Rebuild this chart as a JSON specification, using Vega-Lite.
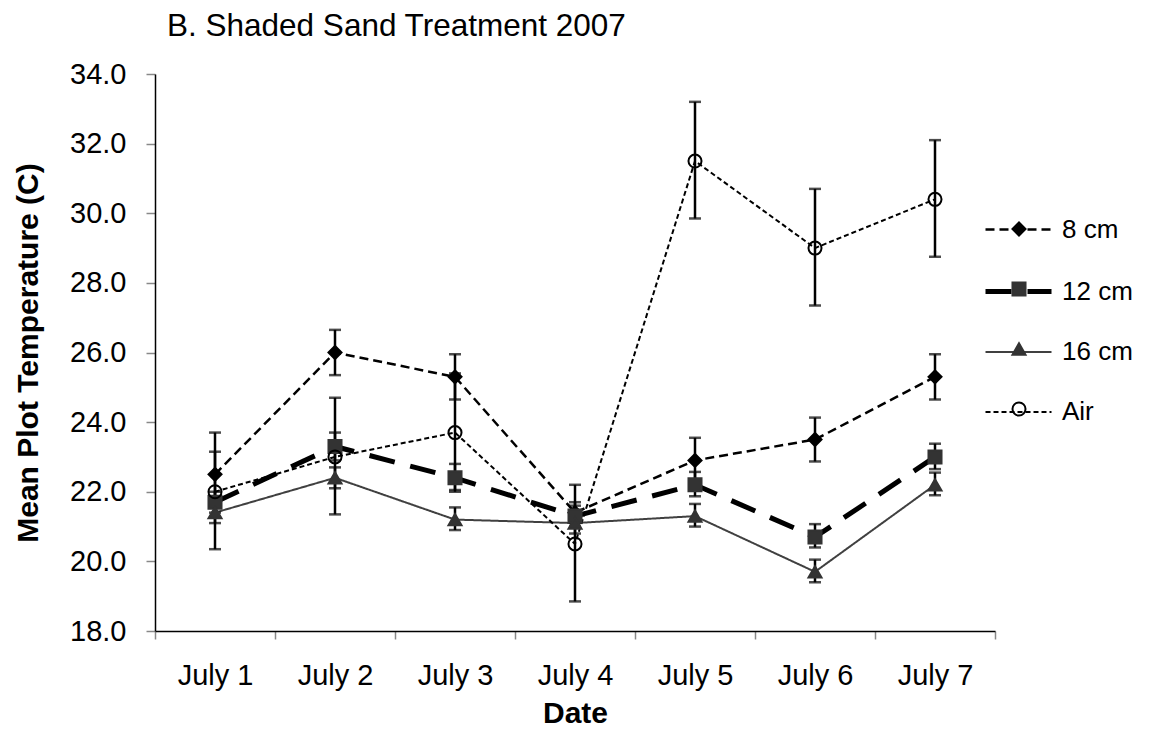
{
  "$schema": "https://vega.github.io/schema/vega-lite/v6.json",
  "width": 840,
  "height": 557,
  "autosize": "none",
  "padding": {"left": 155, "top": 74, "right": 154, "bottom": 125},
  "title": {"text": "B. Shaded Sand Treatment 2007", "anchor": "start", "frame": "group", "dx": 12, "baseline": "alphabetic", "offset": -7, "fontSize": 31.5, "fontWeight": "normal", "font": "Liberation Sans", "color": "black"},
  "config": {"font": "Liberation Sans", "view": {"stroke": null}},
  "data": {"values": [
    {"series": "8 cm", "day": 1, "temp": 22.5, "lo": 21.85, "hi": 23.15},
    {"series": "8 cm", "day": 2, "temp": 26.0, "lo": 25.35, "hi": 26.65},
    {"series": "8 cm", "day": 3, "temp": 25.3, "lo": 24.65, "hi": 25.95},
    {"series": "8 cm", "day": 4, "temp": 21.4, "lo": 21.1, "hi": 21.7},
    {"series": "8 cm", "day": 5, "temp": 22.9, "lo": 22.25, "hi": 23.55},
    {"series": "8 cm", "day": 6, "temp": 23.5, "lo": 22.87, "hi": 24.13},
    {"series": "8 cm", "day": 7, "temp": 25.3, "lo": 24.65, "hi": 25.95},
    {"series": "12 cm", "day": 1, "temp": 21.7, "lo": 21.4, "hi": 22.0},
    {"series": "12 cm", "day": 2, "temp": 23.3, "lo": 22.9, "hi": 23.7},
    {"series": "12 cm", "day": 3, "temp": 22.4, "lo": 22.05, "hi": 22.8},
    {"series": "12 cm", "day": 4, "temp": 21.3, "lo": 21.0, "hi": 21.6},
    {"series": "12 cm", "day": 5, "temp": 22.2, "lo": 21.87, "hi": 22.57},
    {"series": "12 cm", "day": 6, "temp": 20.7, "lo": 20.4, "hi": 21.07},
    {"series": "12 cm", "day": 7, "temp": 23.0, "lo": 22.65, "hi": 23.38},
    {"series": "16 cm", "day": 1, "temp": 21.4, "lo": 21.1, "hi": 21.7},
    {"series": "16 cm", "day": 2, "temp": 22.4, "lo": 22.1, "hi": 22.7},
    {"series": "16 cm", "day": 3, "temp": 21.2, "lo": 20.9, "hi": 21.55},
    {"series": "16 cm", "day": 4, "temp": 21.1, "lo": 20.8, "hi": 21.4},
    {"series": "16 cm", "day": 5, "temp": 21.3, "lo": 21.0, "hi": 21.65},
    {"series": "16 cm", "day": 6, "temp": 19.7, "lo": 19.4, "hi": 20.05},
    {"series": "16 cm", "day": 7, "temp": 22.2, "lo": 21.9, "hi": 22.55},
    {"series": "Air", "day": 1, "temp": 22.0, "lo": 20.35, "hi": 23.7},
    {"series": "Air", "day": 2, "temp": 23.0, "lo": 21.35, "hi": 24.7},
    {"series": "Air", "day": 3, "temp": 23.7, "lo": 22.0, "hi": 25.4},
    {"series": "Air", "day": 4, "temp": 20.5, "lo": 18.85, "hi": 22.2},
    {"series": "Air", "day": 5, "temp": 31.5, "lo": 29.85, "hi": 33.2},
    {"series": "Air", "day": 6, "temp": 29.0, "lo": 27.35, "hi": 30.7},
    {"series": "Air", "day": 7, "temp": 30.4, "lo": 28.75, "hi": 32.1}
  ]},
  "encoding": {
    "x": {
      "field": "day", "type": "quantitative",
      "scale": {"domain": [0.5, 7.5], "nice": false, "zero": false},
      "axis": {
        "title": "Date",
        "values": [0.5, 1, 1.5, 2, 2.5, 3, 3.5, 4, 4.5, 5, 5.5, 6, 6.5, 7, 7.5],
        "labelExpr": "datum.value % 1 === 0 ? 'July ' + datum.value : ''",
        "tickOpacity": {"condition": {"test": "datum.value % 1 === 0", "value": 0}, "value": 1},
        "grid": false, "domainColor": "black", "domainWidth": 1.5,
        "tickColor": "#888888", "tickWidth": 1.5, "tickSize": 8,
        "labelFontSize": 29, "labelColor": "black", "labelPadding": 22, "labelFlush": false, "labelOverlap": false,
        "titleFontSize": 30, "titleFontWeight": "bold", "titleColor": "black", "titlePadding": 8
      }
    }
  },
  "layer": [
    {
      "mark": {"type": "line", "strokeCap": "butt"},
      "encoding": {
        "y": {
          "field": "temp", "type": "quantitative", "title": "Mean Plot Temperature (C)",
          "scale": {"domain": [18, 34], "nice": false, "zero": false},
          "axis": {
            "values": [18, 20, 22, 24, 26, 28, 30, 32, 34], "format": ".1f",
            "grid": false, "domainColor": "black", "domainWidth": 1.5,
            "tickColor": "#888888", "tickWidth": 1.5, "tickSize": 9,
            "labelFontSize": 29, "labelColor": "black", "labelPadding": 20,
            "titleFontSize": 30, "titleFontWeight": "bold", "titleColor": "black", "titlePadding": 26
          }
        },
        "color": {
          "field": "series", "type": "nominal",
          "sort": ["8 cm", "12 cm", "16 cm", "Air"],
          "scale": {"range": ["#000000", "#000000", "#404040", "#000000"]},
          "legend": null
        },
        "strokeDash": {
          "field": "series", "type": "nominal",
          "sort": ["8 cm", "12 cm", "16 cm", "Air"],
          "scale": {"range": [[9, 5], [26, 16], [1, 0], [5, 3]]},
          "legend": null
        },
        "strokeWidth": {
          "field": "series", "type": "nominal",
          "sort": ["8 cm", "12 cm", "16 cm", "Air"],
          "scale": {"type": "ordinal", "range": [2.5, 5, 2, 2]},
          "legend": {
            "title": null, "orient": "none", "legendX": 828, "legendY": 121,
            "symbolType": "stroke", "symbolSize": 4356,
            "labelFontSize": 26, "labelColor": "black", "labelOffset": 8, "rowPadding": 13,
            "encode": {
              "symbols": {
                "update": {
                  "stroke": {"signal": "datum.value === '16 cm' ? '#404040' : '#000000'"},
                  "strokeDash": {"signal": "datum.value === '8 cm' ? [9, 5] : (datum.value === '12 cm' ? [26, 16] : (datum.value === 'Air' ? [5, 3] : [1, 0]))"}
                }
              }
            }
          }
        }
      }
    },
    {
      "mark": {"type": "rule", "color": "black", "strokeWidth": 2.5},
      "encoding": {
        "y": {"field": "lo", "type": "quantitative", "title": "Mean Plot Temperature (C)"},
        "y2": {"field": "hi"}
      }
    },
    {
      "mark": {"type": "tick", "orient": "horizontal", "color": "black", "size": 12, "thickness": 2.5},
      "encoding": {"y": {"field": "lo", "type": "quantitative", "title": "Mean Plot Temperature (C)"}}
    },
    {
      "mark": {"type": "tick", "orient": "horizontal", "color": "black", "size": 12, "thickness": 2.5},
      "encoding": {"y": {"field": "hi", "type": "quantitative", "title": "Mean Plot Temperature (C)"}}
    },
    {
      "mark": {"type": "point", "filled": true, "opacity": 1, "size": 170, "strokeWidth": 2},
      "encoding": {
        "y": {"field": "temp", "type": "quantitative", "title": "Mean Plot Temperature (C)"},
        "shape": {
          "field": "series", "type": "nominal",
          "scale": {"domain": ["8 cm", "12 cm", "16 cm", "Air"], "range": ["diamond", "square", "triangle-up", "circle"]},
          "legend": {
            "title": null, "orient": "none", "legendX": 851, "legendY": 142,
            "symbolSize": 170, "symbolStrokeWidth": 2,
            "labelFontSize": 26, "labelExpr": "''", "rowPadding": 34
          }
        },
        "fill": {
          "field": "series", "type": "nominal",
          "scale": {"domain": ["8 cm", "12 cm", "16 cm", "Air"], "range": ["#000000", "#333333", "#333333", "transparent"]}
        },
        "stroke": {
          "field": "series", "type": "nominal",
          "scale": {"domain": ["8 cm", "12 cm", "16 cm", "Air"], "range": ["#000000", "#333333", "#333333", "#000000"]}
        }
      }
    }
  ]
}
